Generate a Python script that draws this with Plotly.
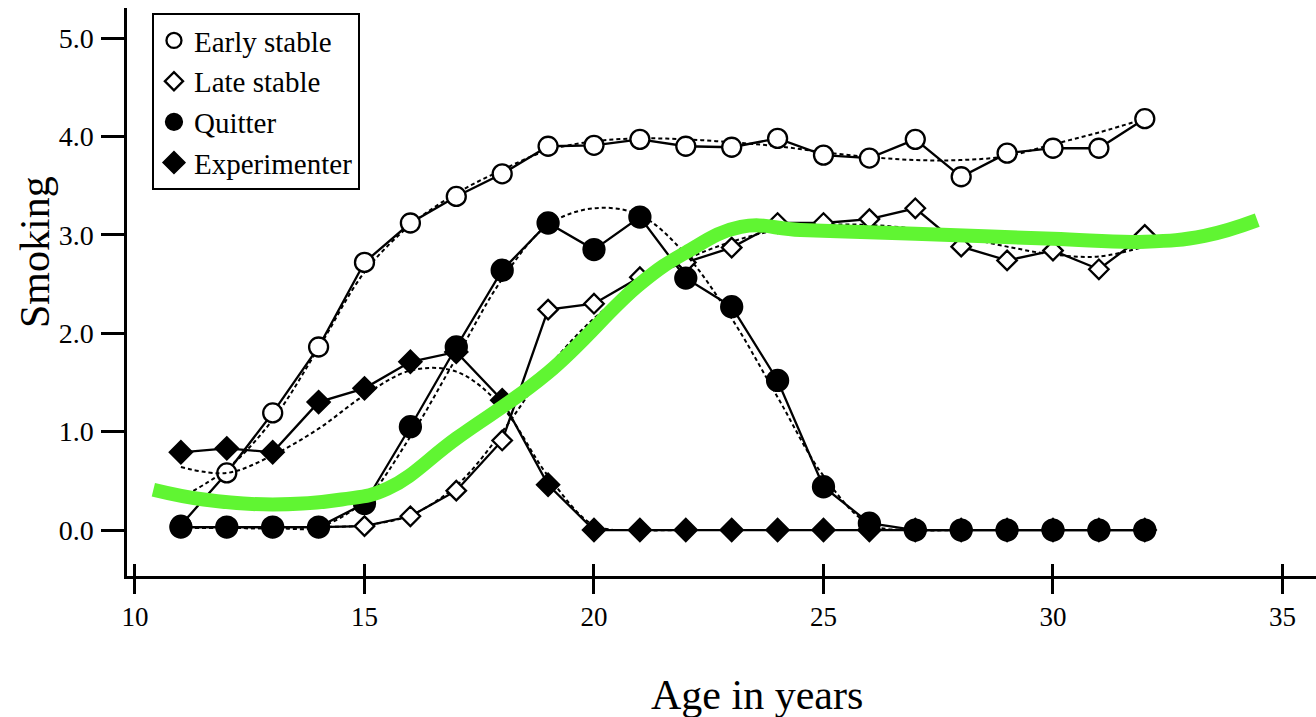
import plotly.graph_objects as go

# Age (years) at each measurement wave
ages = [11, 12, 13, 14, 15, 16, 17, 18, 19, 20, 21, 22, 23, 24, 25, 26, 27, 28, 29, 30, 31, 32]

# Observed mean smoking per trajectory group
early_stable = [0.05, 0.58, 1.19, 1.86, 2.72, 3.12, 3.39, 3.62, 3.90, 3.91, 3.97, 3.90,
                3.89, 3.98, 3.81, 3.78, 3.97, 3.59, 3.83, 3.88, 3.88, 4.18]
late_stable = [0.03, 0.03, 0.03, 0.03, 0.04, 0.14, 0.40, 0.91, 2.24, 2.30, 2.57, 2.72,
               2.87, 3.12, 3.12, 3.16, 3.27, 2.88, 2.74, 2.84, 2.65, 3.00]
quitter = [0.03, 0.03, 0.03, 0.03, 0.27, 1.05, 1.86, 2.64, 3.12, 2.85, 3.18, 2.56,
           2.27, 1.52, 0.44, 0.07, 0.0, 0.0, 0.0, 0.0, 0.0, 0.0]
experimenter = [0.79, 0.83, 0.79, 1.30, 1.44, 1.71, 1.81, 1.32, 0.46, 0.0, 0.0, 0.0,
                0.0, 0.0, 0.0, 0.0, 0.0, 0.0, 0.0, 0.0, 0.0, 0.0]

# Model-predicted trajectories (dashed)
early_fit = [0.33, 0.62, 1.12, 1.85, 2.62, 3.10, 3.42, 3.66, 3.86, 3.95, 3.98, 3.97,
             3.94, 3.90, 3.84, 3.79, 3.76, 3.76, 3.80, 3.92, 4.04, 4.18]
late_fit = [0.02, 0.02, 0.02, 0.03, 0.05, 0.15, 0.45, 1.00, 1.65, 2.15, 2.50, 2.75,
            2.93, 3.05, 3.10, 3.10, 3.06, 2.98, 2.88, 2.80, 2.78, 2.88]
quitter_fit = [0.02, 0.02, 0.02, 0.03, 0.30, 0.95, 1.75, 2.55, 3.10, 3.27, 3.20, 2.80,
               2.15, 1.35, 0.55, 0.06, 0.0, 0.0, 0.0, 0.0, 0.0, 0.0]
experimenter_fit = [0.64, 0.58, 0.76, 1.03, 1.37, 1.62, 1.61, 1.25, 0.55, 0.05, 0.0, 0.0,
                    0.0, 0.0, 0.0, 0.0, 0.0, 0.0, 0.0, 0.0, 0.0, 0.0]

# Hand-drawn overall trend
trend_age = [10.4, 11.5, 13.0, 14.5, 15.5, 17.0, 19.0, 21.0, 22.0, 23.2, 24.5, 27.0,
             30.0, 32.0, 33.3, 34.45]
trend_val = [0.41, 0.31, 0.26, 0.31, 0.42, 0.93, 1.60, 2.50, 2.82, 3.08, 3.05, 3.01,
             2.96, 2.93, 2.99, 3.15]

group_names = ["Early stable", "Late stable", "Quitter", "Experimenter"]

SERIF = "Liberation Serif, Times New Roman, serif"
INK = "black"

series = [
    # name, observed, fitted, symbol, fill, size
    (group_names[0], early_stable, early_fit, "circle", "white", 19),
    (group_names[1], late_stable, late_fit, "diamond", "white", 15),
    (group_names[3], experimenter, experimenter_fit, "diamond", INK, 17),
    (group_names[2], quitter, quitter_fit, "circle", INK, 21),
]

fig = go.Figure()

for name, obs, fit, sym, fill, size in series:
    fig.add_trace(go.Scatter(
        x=ages, y=fit, mode="lines", showlegend=False, hoverinfo="skip",
        line=dict(color=INK, width=2, dash="4px,3px", shape="spline", smoothing=1.0),
    ))
    fig.add_trace(go.Scatter(
        x=ages, y=obs, mode="lines+markers", name=name, showlegend=False,
        line=dict(color=INK, width=2.3),
        marker=dict(symbol=sym, size=size, color=fill, line=dict(color=INK, width=2.3)),
    ))

# Legend entries (markers only)
legend_style = {
    "Early stable": ("circle-open", 15),
    "Late stable": ("diamond-open", 14),
    "Quitter": ("circle", 16),
    "Experimenter": ("diamond", 16),
}
for name in group_names:
    sym, sz = legend_style[name]
    fig.add_trace(go.Scatter(
        x=[None], y=[None], mode="markers", name=name,
        marker=dict(symbol=sym, size=sz, color=INK, line=dict(color=INK, width=2.3)),
    ))

fig.add_trace(go.Scatter(
    x=trend_age, y=trend_val, mode="lines", showlegend=False, hoverinfo="skip",
    line=dict(color="#60f532", width=14, shape="spline", smoothing=1.2),
))

fig.update_layout(
    width=1316, height=717,
    margin=dict(l=127, r=0, t=8, b=141),
    paper_bgcolor="white", plot_bgcolor="white",
    font=dict(family=SERIF, color=INK, size=26),
    showlegend=True,
    legend=dict(
        x=0.021, y=0.991, xanchor="left", yanchor="top",
        bgcolor="white", bordercolor=INK, borderwidth=2,
        font=dict(family=SERIF, size=29, color=INK),
        tracegroupgap=0, itemwidth=30,
    ),
    xaxis=dict(
        range=[9.826, 35.73], tick0=10, dtick=5, showgrid=False, zeroline=False,
        showline=True, linecolor=INK, linewidth=2.5,
        ticks="outside", ticklen=15, tickwidth=2.5, tickcolor=INK,
        ticklabelstandoff=0, tickfont=dict(family=SERIF, size=27, color=INK),
    ),
    xaxis2=dict(
        overlaying="x", matches="x", anchor="y", side="bottom",
        range=[9.826, 35.73], tick0=10, dtick=5, showgrid=False, zeroline=False,
        showline=False, showticklabels=False,
        ticks="inside", ticklen=12, tickwidth=2.5, tickcolor=INK,
    ),
    yaxis=dict(
        range=[-0.467, 5.305], tick0=0, dtick=1, tickformat=".1f",
        showgrid=False, zeroline=False,
        showline=True, linecolor=INK, linewidth=2.5,
        ticks="outside", ticklen=23, tickwidth=2.5, tickcolor=INK,
        ticklabelstandoff=2, tickfont=dict(family=SERIF, size=28, color=INK),
    ),
    annotations=[
        dict(text="Age in years", xref="paper", yref="paper",
             x=(757 - 127) / 1189, y=-(695 - 576) / 568, xanchor="center", yanchor="middle",
             showarrow=False, font=dict(family=SERIF, size=42, color=INK)),
        dict(text="Smoking", xref="paper", yref="paper", textangle=-90,
             x=-(127 - 35) / 1189, y=1 - (252 - 8) / 568, xanchor="center", yanchor="middle",
             showarrow=False, font=dict(family=SERIF, size=42, color=INK)),
    ],
)

# Inside tick marks so that x ticks cross the axis line
fig.add_trace(go.Scatter(x=[None], y=[None], xaxis="x2", showlegend=False, hoverinfo="skip"))

fig.write_html("out.html")
